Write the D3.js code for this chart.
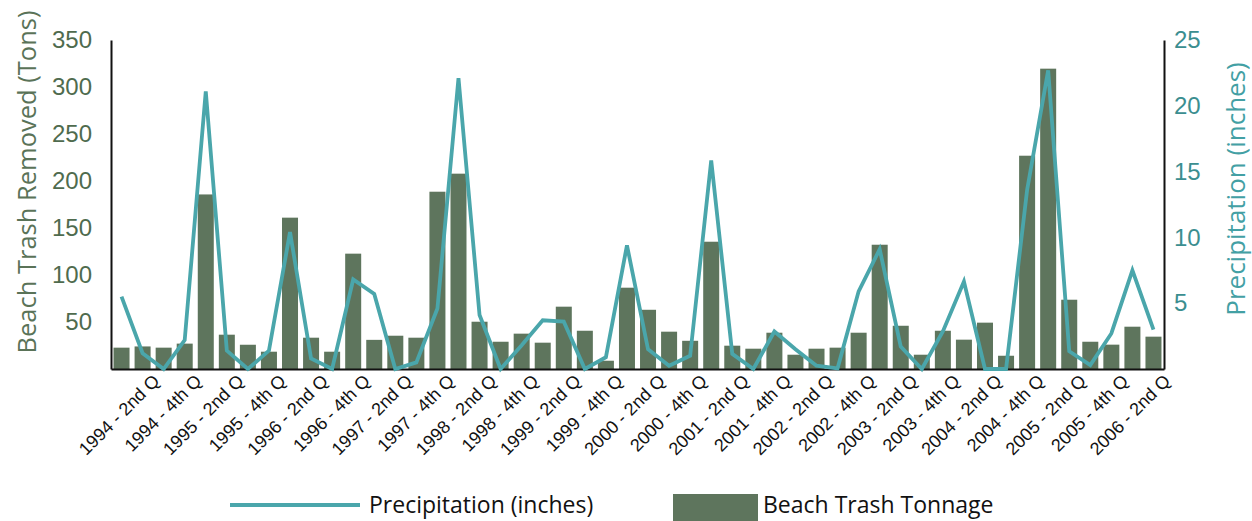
<!DOCTYPE html>
<html>
<head>
<meta charset="utf-8">
<script src="https://cdn.jsdelivr.net/npm/d3@7"></script>
<style>
  html, body { margin: 0; padding: 0; background: #ffffff; }
  svg { display: block; font-family: "Open Sans", "Noto Sans", sans-serif; }
</style>
</head>
<body>
<svg id="chart" width="1252" height="521"></svg>
<script>
// ---- Data ----
const years = [1994,1995,1996,1997,1998,1999,2000,2001,2002,2003,2004,2005,2006];
const quarterNames = ["1st Q","2nd Q","3rd Q","4th Q"];
const categories = [];
years.forEach(y => quarterNames.forEach(q => {
  if (categories.length < 50) categories.push(y + " - " + q);
}));

const trashTons = [
  22.7, 24, 22.7, 27, 185.7, 36.5, 25.8, 18.4, 161, 33.3,
  18.4, 122.7, 31, 35.4, 33.3, 188.6, 207.8, 50.3, 29, 37.6,
  28, 66.3, 40.7, 8.8, 86.5, 63, 39.7, 30, 135.4, 24.8,
  21.6, 38.6, 15.2, 21.6, 22.7, 38.6, 132.2, 46, 15.2, 40.7,
  31.2, 49.3, 14.1, 226.9, 319.5, 73.7, 29, 25.9, 45, 34.4
];

const precipInches = [
  5.5, 1.2, 0, 2.2, 21.1, 1.4, 0, 1.4, 10.4, 0.8,
  0, 6.8, 5.7, 0, 0.5, 4.6, 22.1, 4.1, 0, 1.8,
  3.7, 3.6, 0, 0.9, 9.4, 1.5, 0.25, 1.0, 15.85, 1.15,
  0, 2.85, 1.5, 0.25, 0.05, 5.9, 9.1, 1.7, 0, 2.85,
  6.65, 0, 0, 13.6, 22.7, 1.35, 0.3, 2.7, 7.5, 3.0
];

const leftTicks = [50, 100, 150, 200, 250, 300, 350];
const rightTicks = [5, 10, 15, 20, 25];
const seriesNames = ["Precipitation (inches)", "Beach Trash Tonnage"];
const axisTitles = ["Beach Trash Removed (Tons)", "Precipitation (inches)"];

// ---- Layout ----
const barColor = "#5e755d";
const lineColor = "#4aa6ab";
const leftTextColor = "#4f6b4e";
const rightTextColor = "#3b8e90";

const svg = d3.select("#chart");
const plot = { left: 111, right: 1164, top: 40, bottom: 369 };

const x = d3.scaleBand()
  .domain(categories)
  .range([plot.left, plot.right])
  .paddingInner(0.24)
  .paddingOuter(0.12);

const yL = d3.scaleLinear().domain([0, 350]).range([plot.bottom, plot.top]);
const yR = d3.scaleLinear().domain([0, 25]).range([plot.bottom, plot.top]);

// Bars
svg.append("g")
  .selectAll("rect")
  .data(trashTons)
  .join("rect")
  .attr("x", (d, i) => x(categories[i]))
  .attr("width", x.bandwidth())
  .attr("y", d => yL(d))
  .attr("height", d => yL(0) - yL(d))
  .attr("fill", barColor);

// Bottom axis
const bottomAxis = d3.axisBottom(x)
  .tickSize(0)
  .tickSizeOuter(0)
  .tickFormat((d, i) => (i % 2 === 1 ? d : ""));
const gx = svg.append("g")
  .attr("transform", `translate(0,${plot.bottom})`)
  .call(bottomAxis);
gx.select(".domain").attr("stroke", "#111").attr("stroke-width", 2);
gx.selectAll(".tick text")
  .attr("fill", "#111")
  .attr("font-size", 18)
  .attr("text-anchor", "end")
  .attr("y", 0)
  .attr("dy", 0)
  .attr("transform", "translate(18,13) rotate(-45)");

// Precipitation line
const line = d3.line()
  .x((d, i) => x(categories[i]) + x.bandwidth() / 2)
  .y(d => yR(d));
svg.append("path")
  .datum(precipInches)
  .attr("d", line)
  .attr("fill", "none")
  .attr("stroke", lineColor)
  .attr("stroke-width", 3.8)
  .attr("stroke-linejoin", "miter");

// Left axis
const gl = svg.append("g")
  .attr("transform", `translate(${plot.left},0)`)
  .call(d3.axisLeft(yL).tickValues(leftTicks).tickSize(0).tickSizeOuter(0).tickPadding(19));
gl.select(".domain").attr("stroke", "#111").attr("stroke-width", 2);
gl.selectAll(".tick text").attr("fill", leftTextColor).attr("font-size", 24);

// Right axis
const gr = svg.append("g")
  .attr("transform", `translate(${plot.right},0)`)
  .call(d3.axisRight(yR).tickValues(rightTicks).tickSize(0).tickSizeOuter(0).tickPadding(10));
gr.select(".domain").attr("stroke", "#111").attr("stroke-width", 2);
gr.selectAll(".tick text").attr("fill", rightTextColor).attr("font-size", 24);

// Axis titles
svg.append("text")
  .attr("transform", `translate(36,${(10 + 354) / 2}) rotate(-90)`)
  .attr("text-anchor", "middle")
  .attr("fill", "#5a7358")
  .attr("font-size", 25.5)
  .text(axisTitles[0]);

svg.append("text")
  .attr("transform", `translate(1245,${(60 + 318) / 2}) rotate(-90)`)
  .attr("text-anchor", "middle")
  .attr("fill", "#43a0a4")
  .attr("font-size", 26)
  .text(axisTitles[1]);

// Legend
const lg = svg.append("g");
lg.append("line")
  .attr("x1", 230).attr("x2", 360)
  .attr("y1", 505).attr("y2", 505)
  .attr("stroke", lineColor).attr("stroke-width", 4);
lg.append("text")
  .attr("x", 369).attr("y", 513)
  .attr("fill", "#111").attr("font-size", 23)
  .text(seriesNames[0]);
lg.append("rect")
  .attr("x", 673).attr("y", 494).attr("width", 85).attr("height", 27)
  .attr("fill", barColor);
lg.append("text")
  .attr("x", 763).attr("y", 513)
  .attr("fill", "#111").attr("font-size", 23)
  .text(seriesNames[1]);
</script>
</body>
</html>
